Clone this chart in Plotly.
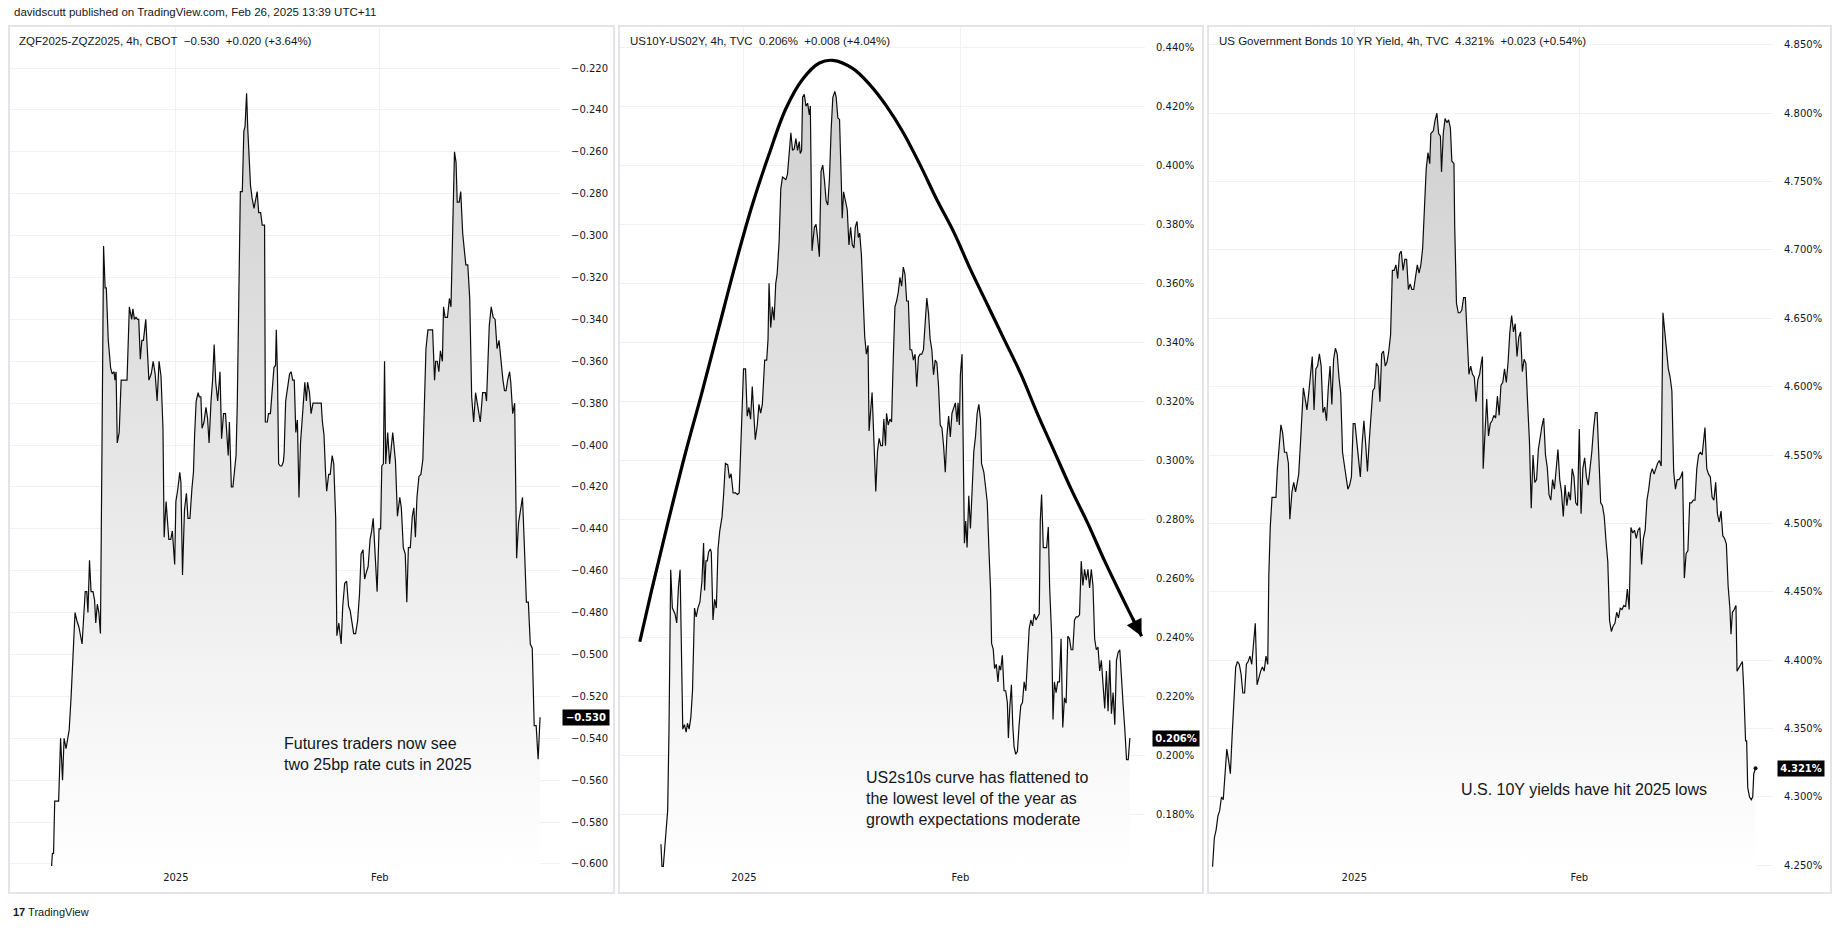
import plotly.graph_objects as go

W, H = 1841, 931

# ---------------- data (time index per panel, value) ----------------
# Panel 1: ZQF2025-ZQZ2025, 4h
zq_t = [125,127,130,133,143,148,153,157,162,166,
        170,175,180,185,190,195,203,207,211,215,
        218,222,226,231,235,238,242,246,250,254,
        258,262,265,270,276,280,285,287,290,293,
        298,303,307,318,324,330,333,337,341,345,
        348,352,356,360,366,374,380,385,390,395,
        400,405,410,413,418,425,430,434,440,443,
        448,453,456,460,465,470,474,479,484,488,
        491,495,500,503,507,510,515,520,524,528,
        533,537,541,545,550,556,560,565,570,574,
        577,580,585,589,593,597,600,604,608,613,
        617,620,624,627,630,634,638,643,651,655,
        660,664,670,672,677,680,685,690,694,698,
        700,703,706,710,714,718,720,724,730,734,
        738,742,746,750,754,758,762,768,773,777,
        780,785,789,794,815,818,822,826,829,834,
        838,843,847,852,855,860,866,870,875,880,
        885,889,893,898,903,908,913,917,922,926,
        930,935,940,944,948,953,958,963,967,970,
        974,977,980,985,990,998,1005,1010,1016,1020,
        1025,1030,1034,1038,1043,1048,1052,1056,1060,1065,
        1070,1075,1078,1083,1088,1100,1105,1108,1112,1116,
        1120,1125,1128,1132,1138,1143,1147,1152,1156,1160,
        1163,1168,1172,1177,1181,1185,1190,1195,1200,1205,
        1210,1215,1222,1228,1235,1238,1242,1245,1250,1255,
        1260,1265,1270,1275,1280,1284,1288,1292,1297,1300,
        1305,1310,1315,1320,1325,1330,1335,1340,1345,1350,
        1355,1360,1365,1370,1375]
zq_v = [-0.601,-0.595,-0.595,-0.570,-0.570,-0.540,-0.560,-0.540,-0.545,-0.540,
        -0.536,-0.520,-0.499,-0.480,-0.484,-0.487,-0.495,-0.480,-0.470,-0.470,
        -0.480,-0.455,-0.470,-0.470,-0.474,-0.485,-0.476,-0.480,-0.490,-0.400,
        -0.305,-0.325,-0.325,-0.350,-0.363,-0.366,-0.365,-0.369,-0.365,-0.399,
        -0.394,-0.369,-0.369,-0.369,-0.334,-0.340,-0.335,-0.340,-0.339,-0.340,
        -0.340,-0.359,-0.350,-0.350,-0.340,-0.369,-0.366,-0.360,-0.366,-0.379,
        -0.360,-0.367,-0.392,-0.444,-0.427,-0.445,-0.445,-0.441,-0.457,-0.427,
        -0.421,-0.413,-0.418,-0.462,-0.431,-0.423,-0.435,-0.435,-0.421,-0.413,
        -0.395,-0.379,-0.375,-0.377,-0.377,-0.392,-0.389,-0.382,-0.387,-0.399,
        -0.379,-0.369,-0.352,-0.370,-0.379,-0.365,-0.397,-0.385,-0.385,-0.400,
        -0.405,-0.389,-0.420,-0.420,-0.412,-0.405,-0.382,-0.316,-0.279,-0.279,
        -0.250,-0.248,-0.232,-0.249,-0.264,-0.276,-0.282,-0.287,-0.279,-0.289,
        -0.289,-0.295,-0.295,-0.389,-0.389,-0.385,-0.385,-0.370,-0.363,-0.362,
        -0.345,-0.366,-0.409,-0.410,-0.410,-0.408,-0.404,-0.379,-0.370,-0.366,
        -0.365,-0.369,-0.369,-0.394,-0.388,-0.425,-0.399,-0.381,-0.370,-0.379,
        -0.370,-0.375,-0.385,-0.380,-0.380,-0.389,-0.395,-0.413,-0.422,-0.414,
        -0.414,-0.405,-0.409,-0.435,-0.491,-0.485,-0.495,-0.477,-0.466,-0.465,
        -0.477,-0.479,-0.485,-0.490,-0.490,-0.484,-0.471,-0.452,-0.450,-0.464,
        -0.461,-0.458,-0.445,-0.441,-0.435,-0.452,-0.470,-0.440,-0.440,-0.410,
        -0.409,-0.360,-0.409,-0.394,-0.409,-0.394,-0.408,-0.434,-0.425,-0.430,
        -0.449,-0.452,-0.475,-0.449,-0.449,-0.434,-0.430,-0.444,-0.425,-0.415,
        -0.414,-0.407,-0.385,-0.354,-0.345,-0.345,-0.369,-0.360,-0.360,-0.365,
        -0.355,-0.360,-0.334,-0.339,-0.339,-0.330,-0.334,-0.286,-0.260,-0.265,
        -0.284,-0.284,-0.279,-0.299,-0.308,-0.314,-0.314,-0.330,-0.377,-0.389,
        -0.375,-0.381,-0.389,-0.375,-0.375,-0.379,-0.359,-0.343,-0.334,-0.339,
        -0.340,-0.354,-0.350,-0.360,-0.369,-0.374,-0.374,-0.369,-0.365,-0.370,
        -0.385,-0.380,-0.454,-0.437,-0.430,-0.425,-0.449,-0.475,-0.475,-0.495,
        -0.497,-0.534,-0.534,-0.550,-0.530]

# Panel 2: US10Y-US02Y, 4h (%)
sp_t = [128,131,135,140,148,152,157,162,170,175,
        180,185,190,193,198,203,207,212,217,222,
        228,233,238,244,250,255,258,262,266,270,
        275,278,283,288,293,298,303,310,315,320,
        327,332,337,343,350,356,361,366,371,374,
        380,385,390,395,400,404,409,415,420,425,
        430,437,443,447,450,455,460,465,470,474,
        480,485,490,496,500,505,510,515,520,525,
        530,535,540,543,547,550,555,560,565,570,
        573,578,585,590,595,600,605,610,615,620,
        625,630,635,640,646,650,655,660,665,668,
        672,678,683,688,693,698,703,707,712,716,
        720,725,730,735,740,745,748,752,757,763,
        768,773,778,783,788,792,797,800,805,810,
        815,820,825,830,835,840,845,850,855,860,
        865,870,875,880,885,890,895,900,905,910,
        915,920,925,930,935,940,945,950,955,960,
        965,970,975,980,985,990,995,1000,1005,1010,
        1013,1017,1020,1025,1028,1032,1036,1040,1045,1050,
        1055,1060,1065,1070,1075,1080,1083,1090,1095,1100,
        1105,1110,1113,1118,1122,1127,1132,1136,1140,1145,
        1150,1155,1160,1163,1167,1172,1176,1180,1185,1190,
        1195,1200,1205,1210,1215,1220,1225,1230,1235,1240,
        1245,1250,1255,1258,1262,1267,1272,1277,1282,1286,
        1292,1296,1300,1305,1310,1315,1320,1325,1330,1335,
        1340,1345,1350,1355,1360,1365,1370,1375,1380,1385,
        1390,1395,1400,1405,1410,1415,1420,1425,1430,1435,
        1440,1445,1450,1455,1460,1465,1470,1475,1480,1485,
        1490,1495,1500,1505,1510,1515,1520,1525]
sp_v = [0.170,0.1625,0.1625,0.171,0.1815,0.209,0.263,0.250,0.248,0.245,
        0.257,0.263,0.236,0.209,0.2105,0.208,0.211,0.209,0.213,0.222,
        0.250,0.247,0.250,0.252,0.259,0.272,0.256,0.266,0.266,0.269,
        0.270,0.269,0.246,0.253,0.250,0.270,0.276,0.281,0.289,0.299,
        0.2985,0.294,0.2955,0.289,0.289,0.2885,0.289,0.305,0.315,0.331,
        0.331,0.315,0.318,0.314,0.325,0.316,0.307,0.312,0.319,0.316,
        0.319,0.334,0.334,0.341,0.360,0.345,0.352,0.3475,0.360,0.363,
        0.374,0.392,0.396,0.3955,0.395,0.397,0.404,0.411,0.405,0.4055,
        0.409,0.405,0.408,0.404,0.405,0.423,0.424,0.420,0.421,0.417,
        0.420,0.371,0.379,0.380,0.375,0.369,0.398,0.400,0.395,0.388,
        0.3865,0.3955,0.412,0.423,0.425,0.423,0.416,0.4155,0.3955,0.382,
        0.391,0.388,0.385,0.373,0.379,0.373,0.372,0.379,0.381,0.3755,
        0.377,0.370,0.358,0.342,0.336,0.339,0.310,0.3175,0.323,0.305,
        0.2895,0.303,0.3075,0.305,0.305,0.314,0.305,0.316,0.312,0.314,
        0.313,0.334,0.352,0.354,0.357,0.362,0.359,0.3655,0.363,0.354,
        0.354,0.3375,0.3375,0.334,0.336,0.325,0.335,0.336,0.336,0.3375,
        0.3485,0.355,0.350,0.341,0.3375,0.329,0.334,0.333,0.325,0.312,
        0.311,0.305,0.296,0.3085,0.315,0.308,0.316,0.3175,0.3195,0.313,
        0.3195,0.312,0.329,0.336,0.309,0.272,0.2795,0.2705,0.288,0.277,
        0.290,0.303,0.308,0.316,0.319,0.314,0.299,0.296,0.291,0.286,
        0.270,0.256,0.238,0.236,0.2295,0.231,0.225,0.2305,0.229,0.234,
        0.222,0.222,0.218,0.206,0.216,0.224,0.2105,0.203,0.2005,0.2015,
        0.2105,0.217,0.218,0.225,0.222,0.235,0.243,0.246,0.244,0.248,
        0.246,0.247,0.248,0.2795,0.2885,0.2705,0.2705,0.2705,0.2775,0.2568,
        0.2405,0.2123,0.225,0.2214,0.225,0.225,0.2396,0.2096,0.2196,0.2178,
        0.2405,0.2396,0.2359,0.2359,0.246,0.247,0.247,0.2477,0.2659,0.2577,
        0.2631,0.2595,0.2631,0.2568,0.2631,0.2577,0.2396,0.2359,0.2368,0.2287,
        0.2323,0.2232,0.216,0.2287,0.2151,0.2323,0.2142,0.2214,0.2105,0.2323,
        0.235,0.2359,0.225,0.2169,0.2087,0.1987,0.1987,0.206]

# hand-drawn arc on panel 2 (time index, value)
arc_t = [65,100,150,200,250,300,350,400,450,500,550,600,640,700,750,800,
         850,900,950,1000,1050,1100,1150,1200,1250,1300,1350,1400,1450,1500,1530]
arc_v = [0.2386,0.2559,0.2795,0.3021,0.3230,0.3448,0.3665,0.3865,0.4037,0.4191,
         0.4291,0.4346,0.4355,0.4327,0.4273,0.4200,0.4110,0.4001,0.3883,0.3774,
         0.3647,0.3529,0.3411,0.3293,0.3157,0.3030,0.2903,0.2786,0.2659,0.2541,0.2472]
arc_tip_t = 1560
arc_tip_v = 0.2405

# Panel 3: US Government Bonds 10 YR Yield, 4h (%)
tn_t = [20,25,30,35,40,45,50,55,60,65,
        70,75,80,85,90,95,100,105,110,115,
        120,125,130,135,140,145,150,155,160,165,
        170,175,178,182,187,192,198,202,207,212,
        217,222,228,233,237,243,248,253,258,262,
        268,275,280,285,290,295,300,305,310,315,
        320,325,330,335,340,345,350,355,360,365,
        370,375,380,385,390,395,400,405,410,415,
        420,425,430,435,440,445,450,455,460,465,
        470,475,480,485,490,495,500,505,510,515,
        520,525,530,535,540,545,550,555,560,565,
        570,575,580,585,590,595,600,605,610,615,
        620,625,630,633,640,645,650,655,660,663,
        668,673,678,683,688,692,698,700,705,710,
        715,720,725,730,735,740,745,750,755,760,
        765,770,775,778,780,785,790,795,800,805,
        810,815,820,825,830,835,840,845,850,855,
        860,865,870,875,880,885,890,895,900,905,
        910,915,920,925,930,935,940,945,950,955,
        960,965,970,975,980,985,990,995,1000,1005,
        1010,1015,1020,1025,1030,1035,1040,1045,1050,1055,
        1060,1065,1070,1075,1080,1085,1090,1095,1100,1105,
        1110,1115,1120,1125,1130,1135,1140,1145,1150,1155,
        1160,1165,1170,1175,1180,1185,1190,1195,1200,1205,
        1210,1215,1220,1225,1230,1235,1240,1245,1250,1255,
        1260,1265,1270,1275,1280,1285,1290,1295,1300,1305,
        1310,1315,1320,1325,1330,1335,1340,1345,1350,1355,
        1360,1365,1370,1375,1380,1385,1390,1395,1400,1403,
        1408,1413,1418,1423,1428,1433,1438,1443,1448,1453,
        1458,1463,1468,1473,1476,1480,1485,1490,1493,1498,
        1503,1508,1512,1517,1520,1523,1528,1533,1537,1540,
        1545]
tn_v = [4.249,4.270,4.276,4.286,4.290,4.300,4.298,4.321,4.335,4.327,
        4.317,4.345,4.376,4.395,4.399,4.397,4.390,4.376,4.376,4.397,
        4.399,4.403,4.397,4.411,4.427,4.382,4.388,4.392,4.395,4.392,
        4.403,4.397,4.462,4.497,4.519,4.519,4.519,4.540,4.556,4.572,
        4.566,4.552,4.552,4.544,4.503,4.523,4.530,4.523,4.530,4.536,
        4.564,4.599,4.591,4.583,4.595,4.611,4.622,4.583,4.613,4.615,
        4.624,4.615,4.581,4.585,4.575,4.599,4.615,4.587,4.620,4.628,
        4.624,4.607,4.595,4.552,4.544,4.536,4.525,4.528,4.534,4.573,
        4.573,4.560,4.544,4.534,4.558,4.575,4.558,4.538,4.560,4.583,
        4.597,4.599,4.617,4.615,4.589,4.624,4.626,4.615,4.618,4.626,
        4.638,4.685,4.685,4.689,4.679,4.697,4.699,4.685,4.693,4.693,
        4.671,4.675,4.671,4.671,4.681,4.689,4.683,4.689,4.701,4.736,
        4.759,4.771,4.763,4.785,4.787,4.795,4.800,4.785,4.783,4.757,
        4.785,4.796,4.793,4.795,4.789,4.765,4.763,4.718,4.661,4.654,
        4.654,4.656,4.665,4.665,4.634,4.609,4.615,4.609,4.607,4.589,
        4.605,4.609,4.618,4.622,4.540,4.564,4.591,4.564,4.573,4.575,
        4.579,4.577,4.593,4.579,4.601,4.603,4.613,4.603,4.618,4.640,
        4.652,4.640,4.646,4.622,4.636,4.640,4.611,4.620,4.617,4.587,
        4.560,4.511,4.550,4.530,4.532,4.554,4.564,4.571,4.577,4.550,
        4.541,4.521,4.517,4.532,4.525,4.541,4.554,4.532,4.523,4.505,
        4.528,4.513,4.523,4.517,4.540,4.534,4.515,4.513,4.569,4.507,
        4.540,4.548,4.534,4.528,4.538,4.552,4.569,4.581,4.581,4.546,
        4.515,4.513,4.505,4.487,4.472,4.429,4.421,4.425,4.427,4.435,
        4.431,4.438,4.437,4.440,4.439,4.452,4.437,4.497,4.493,4.495,
        4.489,4.495,4.497,4.470,4.489,4.495,4.517,4.525,4.536,4.540,
        4.536,4.540,4.544,4.546,4.542,4.654,4.640,4.626,4.613,4.607,
        4.597,4.538,4.525,4.532,4.532,4.534,4.538,4.460,4.478,4.480,
        4.515,4.515,4.517,4.517,4.540,4.550,4.552,4.550,4.560,4.570,
        4.540,4.536,4.534,4.519,4.517,4.530,4.507,4.501,4.509,4.491,
        4.489,4.485,4.454,4.438,4.419,4.435,4.437,4.440,4.392,4.394,
        4.397,4.399,4.378,4.341,4.341,4.307,4.300,4.298,4.300,4.317,
        4.321]

# time-axis labels and their positions (month starts) per panel
month_labels = ["2025", "Feb"]
zq_month_t = [443, 965]
sp_month_t = [375, 1020]
tn_month_t = [418, 1050]

# price-scale ticks
zq_ticks = [round(-0.600 + 0.02 * i, 3) for i in range(20)]
sp_ticks = [round(0.180 + 0.02 * i, 3) for i in range(14)]
tn_ticks = [round(4.250 + 0.05 * i, 3) for i in range(13)]

header = "davidscutt published on TradingView.com, Feb 26, 2025 13:39 UTC+11"
titles = [
    "ZQF2025-ZQZ2025, 4h, CBOT\u00a0\u00a0\u22120.530\u00a0\u00a0+0.020 (+3.64%)",
    "US10Y-US02Y, 4h, TVC\u00a0\u00a00.206%\u00a0\u00a0+0.008 (+4.04%)",
    "US Government Bonds 10 YR Yield, 4h, TVC\u00a0\u00a04.321%\u00a0\u00a0+0.023 (+0.54%)",
]
notes = [
    "Futures traders now see<br>two 25bp rate cuts in 2025",
    "US2s10s curve has flattened to<br>the lowest level of the year as<br>growth expectations moderate",
    "U.S. 10Y yields have hit 2025 lows",
]
last_labels = ["\u22120.530", "0.206%", "4.321%"]


def tick_text(vals, suffix):
    return [("\u2212" if v < 0 else "") + f"{abs(v):.3f}" + suffix for v in vals]


# ---------------- layout helpers (pixel -> paper) ----------------
def fx(px):
    return px / W


def fy(py):
    return 1 - py / H


PLOT_TOP, PLOT_BOT = 27, 870
TXT = "#131722"
GRID = "#f0f1f3"
TICKFONT = dict(family="DejaVu Sans", size=10, color=TXT)

panels = [
    dict(t=zq_t, v=zq_v, xpx=(9, 560), xr=(16, 1426), yr=(-0.6029, -0.2004),
         ticks=zq_ticks, suffix="", months=zq_month_t, box=(9, 26, 614, 893),
         title_x=17, price_x=562, note_x=282, note_y=733, note_anchor="top"),
    dict(t=sp_t, v=sp_v, xpx=(620, 1145), xr=(6, 1570), yr=(0.1613, 0.4468),
         ticks=sp_ticks, suffix="%", months=sp_month_t, box=(619, 26, 1203, 893),
         title_x=628, price_x=1152, note_x=864, note_y=767, note_anchor="top"),
    dict(t=tn_t, v=tn_v, xpx=(1209, 1773), xr=(10, 1594), yr=(4.2466, 4.8629),
         ticks=tn_ticks, suffix="%", months=tn_month_t, box=(1208, 26, 1831, 893),
         title_x=1217, price_x=1777, note_x=1459, note_y=789, note_anchor="middle"),
]

fig = go.Figure()
layout = dict(
    width=W, height=H, autosize=False,
    margin=dict(l=0, r=0, t=0, b=0, pad=0),
    paper_bgcolor="white", plot_bgcolor="white",
    showlegend=False, hovermode=False,
    shapes=[], annotations=[],
)

for i, p in enumerate(panels):
    n = "" if i == 0 else str(i + 1)
    xa, ya = "x" + n, "y" + n
    # baseline for the area fill
    fig.add_trace(go.Scatter(x=[p["t"][0], p["t"][-1]], y=[p["yr"][0]] * 2,
                             mode="lines", line=dict(width=0, color="rgba(0,0,0,0)"),
                             xaxis=xa, yaxis=ya, hoverinfo="skip"))
    fig.add_trace(go.Scatter(
        x=p["t"], y=p["v"], mode="lines",
        line=dict(color="#0d0d0d", width=1.2),
        fill="tonexty",
        fillgradient=dict(type="vertical",
                          colorscale=[[0, "rgba(255,255,255,1)"], [1, "rgba(208,208,208,1)"]],
                          start=p["yr"][0], stop=max(p["v"])),
        xaxis=xa, yaxis=ya, hoverinfo="skip"))

    layout["xaxis" + n] = dict(
        domain=[fx(p["xpx"][0]), fx(p["xpx"][1])], range=list(p["xr"]),
        anchor=ya, showgrid=True, gridcolor=GRID, gridwidth=1, zeroline=False,
        showline=False, ticks="", tickvals=p["months"], ticktext=month_labels,
        tickfont=dict(family="DejaVu Sans", size=10, color=TXT), fixedrange=True)
    layout["yaxis" + n] = dict(
        domain=[fy(PLOT_BOT), fy(PLOT_TOP)], range=list(p["yr"]), anchor=xa,
        side="right", showgrid=True, gridcolor=GRID, gridwidth=1, zeroline=False,
        showline=False, ticks="outside", ticklen=8, tickcolor="rgba(0,0,0,0)",
        tickmode="array", tickvals=p["ticks"], ticktext=tick_text(p["ticks"], p["suffix"]),
        tickfont=TICKFONT, fixedrange=True)

    x0, y0, x1, y1 = p["box"]
    layout["shapes"].append(dict(type="rect", xref="paper", yref="paper",
                                 x0=fx(x0), x1=fx(x1), y0=fy(y1), y1=fy(y0),
                                 line=dict(color="#e3e4e8", width=2), layer="above"))
    layout["annotations"].append(dict(
        text=titles[i], xref="paper", yref="paper", x=fx(p["title_x"]), y=fy(41),
        xanchor="left", yanchor="middle", showarrow=False,
        font=dict(family="Liberation Sans", size=11.5, color=TXT)))
    layout["annotations"].append(dict(
        text="<b>" + last_labels[i] + "</b>", xref="paper", yref=ya,
        x=fx(p["price_x"]), y=p["v"][-1], xanchor="left", yanchor="middle",
        showarrow=False, bgcolor="#000000", borderpad=2, width=42, align="center",
        font=dict(family="DejaVu Sans", size=10, color="white")))
    layout["annotations"].append(dict(
        text=notes[i], xref="paper", yref="paper", x=fx(p["note_x"]), y=fy(p["note_y"]),
        xanchor="left", yanchor=p["note_anchor"], align="left", showarrow=False,
        font=dict(family="Liberation Sans", size=16, color=TXT)))

# marker on last point of panel 3
fig.add_trace(go.Scatter(x=[tn_t[-1]], y=[tn_v[-1]], mode="markers",
                         marker=dict(size=4, color="#0d0d0d"), xaxis="x3", yaxis="y3",
                         hoverinfo="skip"))

# arc with arrow on panel 2
fig.add_trace(go.Scatter(x=arc_t + [arc_tip_t], y=arc_v + [arc_tip_v], mode="lines",
                         line=dict(color="black", width=3.2, shape="spline", smoothing=1),
                         xaxis="x2", yaxis="y2", hoverinfo="skip"))
layout["annotations"].append(dict(
    x=arc_tip_t, y=arc_tip_v, ax=arc_t[-1], ay=arc_v[-1], xref="x2", yref="y2",
    axref="x2", ayref="y2", showarrow=True, arrowhead=2, arrowsize=1.1,
    arrowwidth=3, arrowcolor="black", text=""))

# header and footer
layout["annotations"].append(dict(
    text=header, xref="paper", yref="paper", x=fx(12), y=fy(12),
    xanchor="left", yanchor="middle", showarrow=False,
    font=dict(family="Liberation Sans", size=11.5, color=TXT)))
layout["annotations"].append(dict(
    text="<b>17</b> TradingView", xref="paper", yref="paper", x=fx(11), y=fy(912),
    xanchor="left", yanchor="middle", showarrow=False,
    font=dict(family="Liberation Sans", size=11, color=TXT)))

fig.update_layout(**layout)

fig.write_html("out.html", config={"displayModeBar": False},
               post_script="document.body.style.margin='0';document.body.style.overflow='hidden';")
